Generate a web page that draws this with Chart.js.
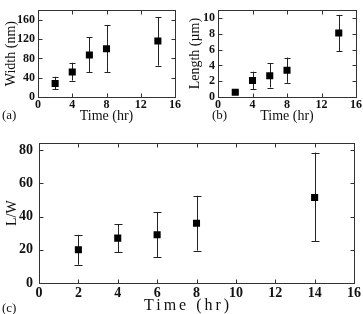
<!DOCTYPE html>
<html>
<head>
<meta charset="utf-8">
<script src="https://cdn.jsdelivr.net/npm/chart.js@4/dist/chart.umd.min.js"></script>
<style>
  body { margin: 0; background: #fff; }
  #wrap { position: relative; width: 363px; height: 314px; overflow: hidden; font-family: "Liberation Serif", serif; }
  canvas { position: absolute; }
  .lbl { position: absolute; font-size: 13px; color: #111; white-space: nowrap; }
</style>
</head>
<body>
<div id="wrap">
  <canvas id="chartA" style="left:0;top:0" width="182" height="125"></canvas>
  <canvas id="chartB" style="left:182px;top:0" width="181" height="125"></canvas>
  <canvas id="chartC" style="left:0;top:129px" width="363" height="185"></canvas>
  <div class="lbl" style="left:2px;top:107px">(a)</div>
  <div class="lbl" style="left:212px;top:107px">(b)</div>
  <div class="lbl" style="left:2px;top:300px">(c)</div>
  <div class="lbl" style="left:144px;top:296px;font-size:16px;letter-spacing:3px">Time (hr)</div>
</div>
<script>
// data
const timeHr = [2, 4, 6, 8, 14];

const widthNm = [28, 52, 87, 100, 116];
const widthLow = [16, 34, 52, 52, 65];
const widthHigh = [42, 71, 124, 149, 166];

const lengthUm = [0.6, 2.1, 2.7, 3.4, 8.1];
const lengthLow = [0.5, 1.0, 1.2, 1.8, 5.8];
const lengthHigh = [0.7, 3.2, 4.3, 5.0, 10.4];

const ratioLW = [20, 27, 29, 36, 51.5];
const ratioLow = [11, 18.5, 15.5, 19.5, 25];
const ratioHigh = [29, 35.5, 42.5, 52.5, 78.5];

const timeTicksSmall = [0, 4, 8, 12, 16];
const timeTicksBig = [0, 2, 4, 6, 8, 10, 12, 14, 16];
const widthTicks = [0, 40, 80, 120, 160];
const lengthTicks = [0, 2, 4, 6, 8, 10];
const ratioTicks = [0, 20, 40, 60, 80];

const serif = '"Liberation Serif", "Times New Roman", serif';

// error bars + closed frame with inward ticks
const framePlugin = {
    id: 'frame',
    beforeDatasetsDraw(chart, args, opts) {
        const ctx = chart.ctx;
        const xs = chart.scales.x, ys = chart.scales.y;
        const low = opts.low, high = opts.high;
        ctx.save();
        ctx.strokeStyle = '#222';
        ctx.lineWidth = 1;
        chart.data.datasets[0].data.forEach(function(p, i) {
            const x = Math.round(xs.getPixelForValue(p.x)) + 0.5;
            const y1 = ys.getPixelForValue(low[i]);
            const y2 = ys.getPixelForValue(high[i]);
            ctx.beginPath();
            ctx.moveTo(x, y1); ctx.lineTo(x, y2);
            ctx.moveTo(x - opts.cap, Math.round(y1) + 0.5); ctx.lineTo(x + opts.cap, Math.round(y1) + 0.5);
            ctx.moveTo(x - opts.cap, Math.round(y2) + 0.5); ctx.lineTo(x + opts.cap, Math.round(y2) + 0.5);
            ctx.stroke();
        });
        ctx.restore();
    },
    afterDraw(chart, args, opts) {
        const ctx = chart.ctx;
        const a = chart.chartArea;
        const xs = chart.scales.x, ys = chart.scales.y;
        const L = Math.round(a.left) + 0.5, R = Math.round(a.right) + 0.5;
        const T = Math.round(a.top) + 0.5, B = Math.round(a.bottom) + 0.5;
        const t = 4;
        ctx.save();
        ctx.strokeStyle = '#333';
        ctx.lineWidth = 1;
        ctx.strokeRect(L, T, R - L, B - T);
        ctx.beginPath();
        xs.ticks.forEach(function(tk) {
            const x = Math.round(xs.getPixelForValue(tk.value)) + 0.5;
            ctx.moveTo(x, B); ctx.lineTo(x, B - t);
            ctx.moveTo(x, T); ctx.lineTo(x, T + t);
        });
        ys.ticks.forEach(function(tk) {
            const y = Math.round(ys.getPixelForValue(tk.value)) + 0.5;
            ctx.moveTo(L, y); ctx.lineTo(L + t, y);
            ctx.moveTo(R, y); ctx.lineTo(R - t, y);
        });
        ctx.stroke();
        ctx.restore();
    }
};

function makeChart(id, vals, low, high, cfg) {
    const pts = timeHr.map(function(t, i) { return { x: t, y: vals[i] }; });
    return new Chart(document.getElementById(id), {
        type: 'scatter',
        data: {
            datasets: [{
                data: pts,
                pointStyle: 'rect',
                pointRadius: 5,
                pointHoverRadius: 5,
                backgroundColor: '#000',
                borderColor: '#000',
                borderWidth: 0
            }]
        },
        options: {
            responsive: false,
            animation: false,
            events: [],
            layout: { padding: cfg.padding },
            plugins: {
                legend: { display: false },
                tooltip: { enabled: false },
                frame: { low: low, high: high, cap: cfg.cap }
            },
            scales: {
                x: {
                    type: 'linear',
                    min: 0,
                    max: 16,
                    afterBuildTicks: function(s) { s.ticks = cfg.xTicks.map(function(v) { return { value: v }; }); },
                    afterFit: function(s) { s.height = cfg.xHeight; },
                    grid: { drawOnChartArea: false, drawTicks: false },
                    border: { display: false },
                    ticks: {
                        padding: cfg.xPad,
                        color: '#111',
                        autoSkip: false,
                        maxRotation: 0,
                        font: { family: serif, size: cfg.tickSize, weight: 'bold' }
                    },
                    title: {
                        display: !!cfg.xTitle,
                        text: cfg.xTitle || '',
                        color: '#111',
                        padding: { top: 0, bottom: 0 },
                        font: { family: serif, size: 14 }
                    }
                },
                y: {
                    min: 0,
                    max: cfg.yMax,
                    afterBuildTicks: function(s) { s.ticks = cfg.yTicks.map(function(v) { return { value: v }; }); },
                    afterFit: function(s) { s.width = cfg.yWidth; },
                    grid: { drawOnChartArea: false, drawTicks: false },
                    border: { display: false },
                    ticks: {
                        padding: cfg.yPad,
                        color: '#111',
                        autoSkip: false,
                        font: { family: serif, size: cfg.tickSize, weight: 'bold' }
                    },
                    title: {
                        display: true,
                        text: cfg.yTitle,
                        color: '#111',
                        padding: { top: cfg.yTitlePad, bottom: 0 },
                        font: { family: serif, size: 14 }
                    }
                }
            }
        },
        plugins: [framePlugin]
    });
}

makeChart('chartA', widthNm, widthLow, widthHigh, {
    padding: { top: 5, right: 5, left: 0, bottom: 0 },
    xTicks: timeTicksSmall, yTicks: widthTicks, yMax: 180,
    xHeight: 28, yWidth: 38, xPad: 1, yPad: 3, tickSize: 12, cap: 3,
    xTitle: 'Time (hr)', yTitle: 'Width (nm)', yTitlePad: 3
});

makeChart('chartB', lengthUm, lengthLow, lengthHigh, {
    padding: { top: 5, right: 6, left: 0, bottom: 0 },
    xTicks: timeTicksSmall, yTicks: lengthTicks, yMax: 11,
    xHeight: 28, yWidth: 36, xPad: 1, yPad: 3, tickSize: 12, cap: 3,
    xTitle: 'Time (hr)', yTitle: 'Length (\u00b5m)', yTitlePad: 5
});

makeChart('chartC', ratioLW, ratioLow, ratioHigh, {
    padding: { top: 1, right: 6, left: 0, bottom: 0 },
    xTicks: timeTicksBig, yTicks: ratioTicks, yMax: 84,
    xHeight: 31, yWidth: 39, xPad: 2, yPad: 6, tickSize: 14, cap: 4,
    xTitle: '', yTitle: 'L/W', yTitlePad: 4
});
</script>
</body>
</html>
